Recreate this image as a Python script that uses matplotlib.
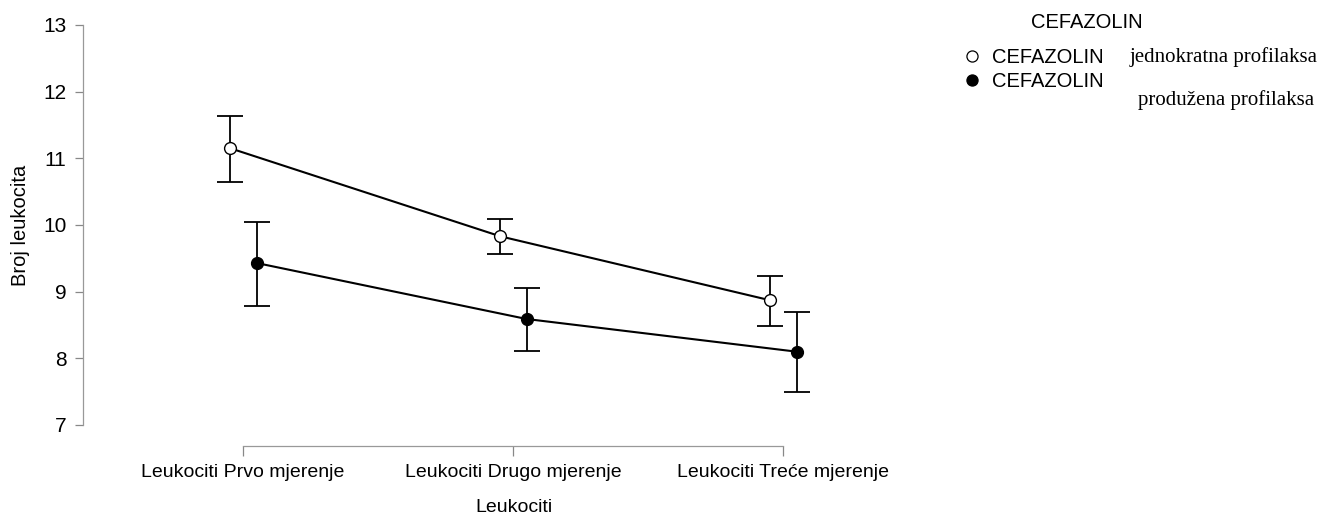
import matplotlib.pyplot as plt
from matplotlib.lines import Line2D

plt.rcParams['font.family'] = ['Liberation Sans', 'DejaVu Sans']

# data
categories = ['Leukociti Prvo mjerenje', 'Leukociti Drugo mjerenje', 'Leukociti Treće mjerenje']
jedno_mean = [11.15, 9.83, 8.87]
jedno_lo = [10.65, 9.57, 8.49]
jedno_hi = [11.63, 10.09, 9.24]
produ_mean = [9.43, 8.59, 8.10]
produ_lo = [8.79, 8.11, 7.50]
produ_hi = [10.05, 9.06, 8.69]
group_names = ['CEFAZOLIN', 'CEFAZOLIN']
group_notes = ['jednokratna profilaksa', 'produžena profilaksa']

fig = plt.figure(figsize=(13.41, 5.17), dpi=100)
ax = fig.add_axes([83 / 1341, 92 / 517, 862 / 1341, 400 / 517])

x = list(range(len(categories)))
dodge = [-0.047, 0.05]
series = [(jedno_mean, jedno_lo, jedno_hi, 'white'), (produ_mean, produ_lo, produ_hi, 'black')]
for (m, lo, hi, fc), d in zip(series, dodge):
    xs = [v + d for v in x]
    err = [[a - b for a, b in zip(m, lo)], [b - a for a, b in zip(m, hi)]]
    ax.errorbar(xs, m, yerr=err, fmt='none', ecolor='black', elinewidth=1.3,
                capsize=9.5, capthick=1.3, clip_on=False, zorder=2)
    ax.plot(xs, m, color='black', linewidth=1.5, marker='o', markersize=8.5,
            markerfacecolor=fc, markeredgecolor='black', markeredgewidth=1.0,
            clip_on=False, zorder=3)

ax.set_xlim(-0.593, 2.6)
ax.set_ylim(7, 13)
ax.set_yticks(range(7, 14))
ax.set_xticks(x)
ax.set_xticklabels(categories)
ax.tick_params(axis='y', labelsize=15, length=6, width=0.9, color='#888888', pad=6)
ax.tick_params(axis='x', labelsize=14, length=7, width=0.9, color='#888888', pad=6)

for s in ['top', 'right']:
    ax.spines[s].set_visible(False)
ax.spines['left'].set_color('#999999')
ax.spines['left'].set_linewidth(0.9)
ax.spines['left'].set_bounds(7, 13)
ax.spines['bottom'].set_color('#999999')
ax.spines['bottom'].set_linewidth(0.9)
ax.spines['bottom'].set_position(('outward', 15))
ax.spines['bottom'].set_bounds(0, 2)

ax.set_ylabel('Broj leukocita', fontsize=14.5, labelpad=9)
ax.set_xlabel('Leukociti', fontsize=14, labelpad=13)

# legend
handles = [Line2D([], [], linestyle='none', marker='o', markersize=8,
                  markerfacecolor=fc, markeredgecolor='black', markeredgewidth=0.9)
           for fc in ['white', 'black']]
fig.legend(handles, group_names, loc='upper left', bbox_to_anchor=(962 / 1341, 1 - 48 / 517),
           frameon=False, fontsize=14.5, handlelength=1.0, handletextpad=0.5,
           labelspacing=0.25, borderpad=0, borderaxespad=0)
fig.text(1087 / 1341, 1 - 22 / 517, 'CEFAZOLIN', fontsize=14.5, ha='center', va='center')
fig.text(1130 / 1341, 1 - 57 / 517, group_notes[0], fontsize=15, ha='left', va='center',
         family=['Liberation Serif', 'DejaVu Serif'])
fig.text(1138 / 1341, 1 - 100 / 517, group_notes[1], fontsize=15, ha='left', va='center',
         family=['Liberation Serif', 'DejaVu Serif'])

plt.savefig('out.png', dpi=100)
